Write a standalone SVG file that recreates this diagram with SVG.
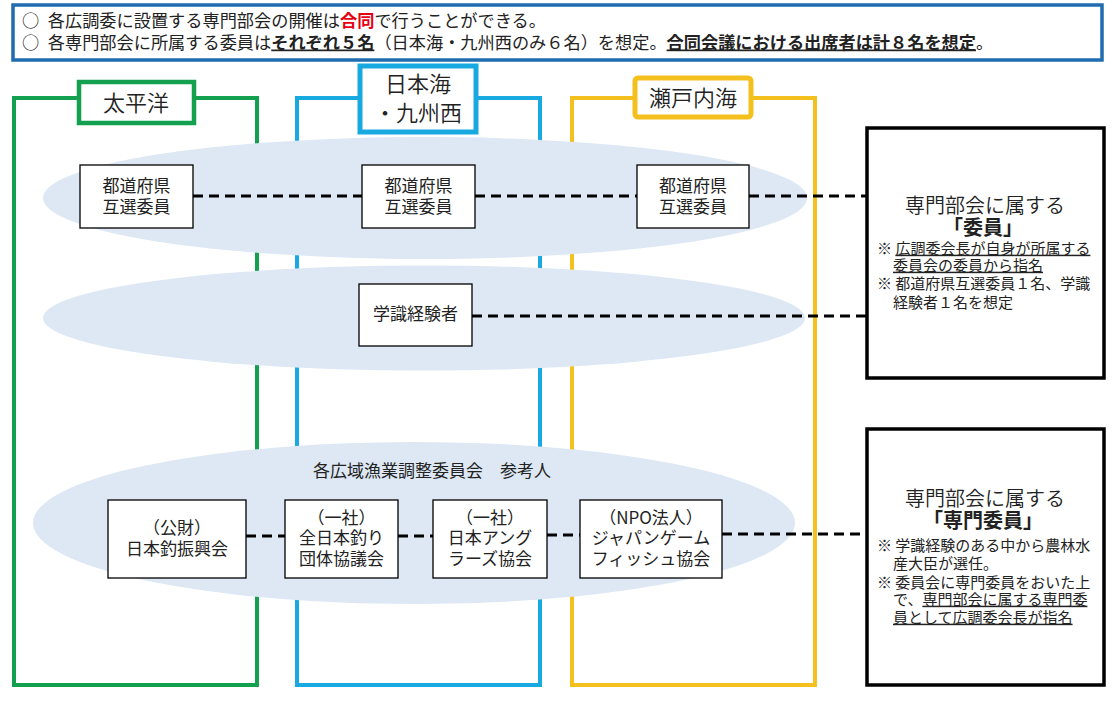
<svg xmlns="http://www.w3.org/2000/svg" width="1114" height="701" viewBox="0 0 1114 701">
<style>
text{font-family:"Noto Sans CJK JP","Noto Sans",sans-serif;fill:#222}
.top{font-size:17.2px}
.lbl{font-size:22px;text-anchor:middle;font-weight:350}
.nd{font-size:17px;text-anchor:middle}
.hd{font-size:20px;text-anchor:middle;font-weight:350}
.nt{font-size:15px}
.b{font-weight:700}
.u{text-decoration:underline}
.box{fill:#fff;stroke:#000;stroke-width:1.3}
.ell{fill:#dde8f4}
.dash{stroke:#000;stroke-width:3;stroke-dasharray:10 6;fill:none}
.rbox{fill:#fff;stroke:#000;stroke-width:3.5}
</style>
<rect width="1114" height="701" fill="#fff"/>
<g id="header">
<rect x="13" y="5" width="1089" height="55" fill="#fff" stroke="#1f6cb0" stroke-width="3.5"/>
<text class="top" x="22" y="26.5">○&#x2002;各広調委に設置する専門部会の開催は<tspan class="b" fill="#e60012">合同</tspan>で行うことができる。<tspan x="22" y="48.5">○&#x2002;各専門部会に所属する委員は</tspan><tspan class="b u">それぞれ５名</tspan>（日本海・九州西のみ６名）を想定。<tspan class="b u">合同会議における出席者は計８名を想定</tspan>。</text>
</g>
<g id="col-pacific">
<rect x="14" y="98" width="243" height="587" fill="none" stroke="#13a04f" stroke-width="4"/>
</g>
<g id="col-japansea">
<rect x="297" y="98" width="243" height="587" fill="none" stroke="#18a9e0" stroke-width="4"/>
</g>
<g id="col-seto">
<rect x="572" y="98" width="243" height="587" fill="none" stroke="#f4c01e" stroke-width="4"/>
</g>
<g id="groups">
<ellipse class="ell" cx="425" cy="198" rx="382" ry="61"/>
<ellipse class="ell" cx="424" cy="318" rx="381" ry="52.5"/>
<ellipse class="ell" cx="414" cy="523" rx="381" ry="81"/>
</g>
<g id="label-pacific">
<rect x="79" y="82" width="115" height="41" fill="#fff" stroke="#13a04f" stroke-width="4.5"/>
<text class="lbl" x="136" y="110.5">太平洋</text>
</g>
<g id="label-japansea">
<rect x="360" y="66" width="116" height="66" fill="#fff" stroke="#18a9e0" stroke-width="5"/>
<text class="lbl" x="418" y="91.5">日本海<tspan x="418" dy="29">・九州西</tspan></text>
</g>
<g id="label-seto">
<rect x="635" y="78" width="116" height="39" rx="3" fill="#fff" stroke="#f4c01e" stroke-width="5"/>
<text class="lbl" x="693" y="105.5">瀬戸内海</text>
</g>
<g id="pref1">
<rect class="box" x="80" y="165" width="113" height="63"/>
<text class="nd" x="136.5" y="191.5">都道府県<tspan x="136.5" dy="21">互選委員</tspan></text>
</g>
<g id="pref2">
<rect class="box" x="362" y="165" width="113" height="63"/>
<text class="nd" x="418.5" y="191.5">都道府県<tspan x="418.5" dy="21">互選委員</tspan></text>
</g>
<g id="pref3">
<rect class="box" x="637" y="165" width="112" height="63"/>
<text class="nd" x="693" y="191.5">都道府県<tspan x="693" dy="21">互選委員</tspan></text>
</g>
<g id="expert">
<rect class="box" x="359" y="284" width="113" height="62"/>
<text class="nd" x="415.5" y="319.5">学識経験者</text>
</g>
<g id="ref-title">
<text class="nd" x="313" y="476.5" style="text-anchor:start">各広域漁業調整委員会　参考人</text>
</g>
<g id="ref1">
<rect class="box" x="108" y="500" width="138" height="78"/>
<text class="nd" x="177" y="533.5">（公財）<tspan x="177" dy="21">日本釣振興会</tspan></text>
</g>
<g id="ref2">
<rect class="box" x="285" y="500" width="113" height="78"/>
<text class="nd" x="341.5" y="523.5">（一社）<tspan x="341.5" dy="20">全日本釣り</tspan><tspan x="341.5" dy="21">団体協議会</tspan></text>
</g>
<g id="ref3">
<rect class="box" x="433" y="500" width="114" height="78"/>
<text class="nd" x="490" y="523.5">（一社）<tspan x="490" dy="20">日本アング</tspan><tspan x="490" dy="21">ラーズ協会</tspan></text>
</g>
<g id="ref4">
<rect class="box" x="580" y="500" width="142" height="78"/>
<text class="nd" x="651" y="523.5">（NPO法人）<tspan x="651" dy="20">ジャパンゲーム</tspan><tspan x="651" dy="21">フィッシュ協会</tspan></text>
</g>
<g id="connectors">
<line class="dash" x1="193" y1="196" x2="362" y2="196"/>
<line class="dash" x1="475" y1="196" x2="637" y2="196"/>
<line class="dash" x1="749" y1="196" x2="867" y2="196"/>
<line class="dash" x1="472" y1="316" x2="867" y2="316"/>
<line class="dash" x1="246" y1="536" x2="285" y2="536"/>
<line class="dash" x1="398" y1="536" x2="433" y2="536"/>
<line class="dash" x1="547" y1="535" x2="580" y2="535"/>
<line class="dash" x1="722" y1="534" x2="867" y2="534"/>
</g>
<g id="members">
<rect class="rbox" x="867" y="128" width="237" height="250"/>
<text class="hd" x="985" y="212.5">専門部会に属する<tspan class="b" x="983" dy="22">「委員」</tspan></text>
<text class="nt" x="877" y="253.7">※ <tspan class="u">広調委会長が自身が所属する</tspan><tspan class="u" x="893" dy="17">委員会の委員から指名</tspan><tspan x="877" dy="18">※ 都道府県互選委員１名、学識</tspan><tspan x="893" dy="19">経験者１名を想定</tspan></text>
</g>
<g id="specialists">
<rect class="rbox" x="867" y="429" width="237" height="256"/>
<text class="hd" x="985" y="505.5">専門部会に属する<tspan class="b" x="983" dy="22">「専門委員」</tspan></text>
<text class="nt" x="877" y="550.7">※ 学識経験のある中から農林水<tspan x="893" dy="18">産大臣が選任。</tspan><tspan x="877" dy="19">※ 委員会に専門委員をおいた上</tspan><tspan x="893" dy="17">で、</tspan><tspan class="u">専門部会に属する専門委</tspan><tspan class="u" x="893" dy="18">員として広調委会長が指名</tspan></text>
</g>
</svg>
